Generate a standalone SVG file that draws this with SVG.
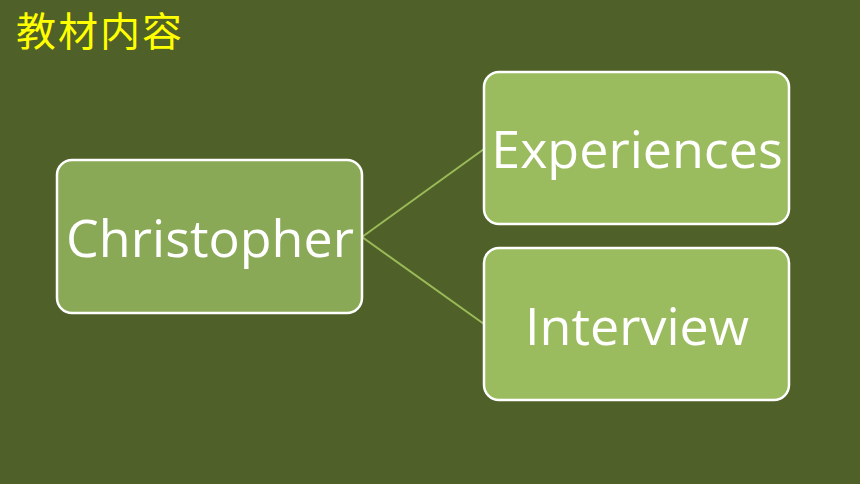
<svg xmlns="http://www.w3.org/2000/svg" width="860" height="484" viewBox="0 0 860 484">
<style>
.node rect{stroke:#ffffff;stroke-width:2.5}
.node text{font-family:"Open Sans","Noto Sans",sans-serif;fill:#ffffff;font-size:52px;text-anchor:middle}
.conn line{stroke:#9bbb59;stroke-width:2}
</style>
<rect width="860" height="484" fill="#4f6028"/>
<text x="16" y="46" font-family="'Noto Sans CJK SC',sans-serif" font-size="40" letter-spacing="2" fill="#ffff00">教材内容</text>
<g class="conn">
<line x1="362" y1="237" x2="484" y2="149"/>
<line x1="362" y1="237" x2="484" y2="324"/>
</g>
<g id="christopher" class="node">
<rect x="57" y="160" width="305" height="153" rx="15" fill="#8aa956"/>
<text x="210" y="257">Christopher</text>
</g>
<g id="experiences" class="node">
<rect x="484" y="72" width="305" height="152" rx="15" fill="#9bbb5f"/>
<text x="637" y="168">Experiences</text>
</g>
<g id="interview" class="node">
<rect x="484" y="248" width="305" height="152" rx="15" fill="#9bbb5f"/>
<text x="637" y="345">Interview</text>
</g>
</svg>
